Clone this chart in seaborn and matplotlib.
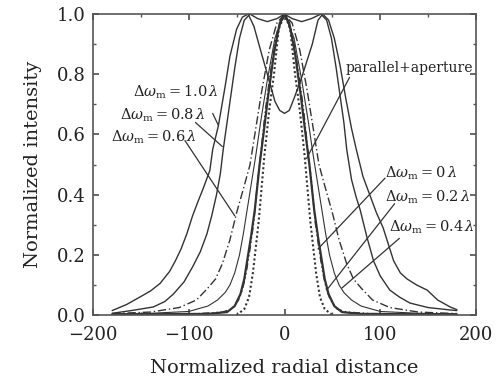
import numpy as np
import pandas as pd
import matplotlib
matplotlib.use("Agg")
import matplotlib.pyplot as plt
from matplotlib.ticker import MultipleLocator
import seaborn as sns

# ---- data (radial distance, normalized intensity) ----
x_10 = [-180, -165, -151, -140, -130, -120, -114, -108, -102, -96, -90, -85, -78, -75, -69, -62, -57, -50, -44, -38,
        -32, -25, -17, -10, -5, 0, 5, 10, 18, 25, 29, 35, 40, 46, 52, 58, 64, 70, 75, 82, 89, 96, 103, 109, 114, 121,
        128, 138, 149, 160, 173, 180]
y_10 = [0.015, 0.035, 0.06, 0.08, 0.105, 0.145, 0.18, 0.22, 0.27, 0.33, 0.38, 0.42, 0.48, 0.55, 0.63, 0.76, 0.86, 0.95,
        0.99, 1.0, 0.96, 0.88, 0.79, 0.71, 0.68, 0.67, 0.68, 0.72, 0.79, 0.86, 0.90, 0.98, 1.0, 0.98, 0.92, 0.83, 0.72,
        0.62, 0.55, 0.46, 0.40, 0.34, 0.29, 0.23, 0.18, 0.14, 0.12, 0.10, 0.083, 0.05, 0.027, 0.018]

x_08 = [-180, -160, -137, -125, -116, -105, -96, -88, -81, -76, -71, -67, -64, -60, -56, -52, -47, -42, -36, -28, -18,
        -8, 0, 8, 18, 28, 38, 44, 49, 54, 58, 62, 65, 70, 75, 79, 86, 93, 100, 110, 120, 131, 150, 173, 180]
y_08 = [0.006, 0.015, 0.027, 0.045, 0.07, 0.11, 0.16, 0.21, 0.27, 0.33, 0.40, 0.47, 0.55, 0.64, 0.73, 0.82, 0.92, 0.98,
        1.0, 0.985, 0.975, 0.985, 1.0, 0.985, 0.975, 0.985, 1.0, 0.98, 0.92, 0.82, 0.73, 0.64, 0.55, 0.45, 0.39, 0.35,
        0.26, 0.18, 0.13, 0.083, 0.06, 0.04, 0.025, 0.017, 0.015]

x_06 = [-180, -140, -110, -92, -80, -72, -65, -57, -50, -42, -36, -30, -24, -16, -8, 0, 8, 16, 24, 30, 36, 42, 50, 57,
        65, 72, 80, 92, 110, 140, 180]
y_06 = [0.005, 0.01, 0.025, 0.05, 0.09, 0.12, 0.17, 0.25, 0.34, 0.43, 0.50, 0.62, 0.74, 0.88, 0.97, 1.0, 0.97, 0.88,
        0.74, 0.62, 0.50, 0.43, 0.34, 0.25, 0.17, 0.12, 0.09, 0.05, 0.025, 0.01, 0.005]

x_04 = [-180, -140, -100, -80, -70, -62, -57, -52, -47, -43, -38, -34, -30, -25, -18, -10, 0, 10, 18, 25, 30, 34, 38,
        43, 47, 52, 57, 62, 70, 80, 100, 140, 180]
y_04 = [0.004, 0.006, 0.012, 0.03, 0.05, 0.075, 0.10, 0.14, 0.20, 0.27, 0.37, 0.45, 0.53, 0.64, 0.78, 0.92, 1.0, 0.92,
        0.78, 0.64, 0.53, 0.45, 0.37, 0.27, 0.20, 0.14, 0.10, 0.075, 0.05, 0.03, 0.012, 0.006, 0.004]

x_02 = [-180, -90, -65, -55, -48, -44, -40, -36, -32, -28, -25, -20, -15, -8, 0, 8, 15, 20, 25, 28, 32, 36, 40, 44, 48,
        55, 65, 90, 180]
y_02 = [0.003, 0.005, 0.01, 0.02, 0.05, 0.083, 0.14, 0.22, 0.31, 0.45, 0.53, 0.68, 0.80, 0.94, 1.0, 0.94, 0.80, 0.68,
        0.53, 0.45, 0.31, 0.22, 0.14, 0.083, 0.05, 0.02, 0.01, 0.005, 0.003]

x_00 = [-180, -80, -60, -52, -46, -42, -38, -35, -31, -26, -22, -17, -11, -5, 0, 5, 11, 17, 22, 26, 31, 35, 38, 42, 46,
        52, 60, 80, 180]
y_00 = [0.002, 0.004, 0.01, 0.03, 0.07, 0.12, 0.20, 0.26, 0.35, 0.50, 0.60, 0.73, 0.87, 0.97, 1.0, 0.97, 0.87, 0.73,
        0.60, 0.50, 0.35, 0.26, 0.20, 0.12, 0.07, 0.03, 0.01, 0.004, 0.002]

x_pa = [-50, -42, -37, -33, -27, -21, -16, -11, -6, 0, 6, 11, 16, 21, 27, 33, 37, 42, 50]
y_pa = [0.0, 0.02, 0.06, 0.14, 0.31, 0.53, 0.68, 0.80, 0.95, 1.0, 0.95, 0.80, 0.68, 0.53, 0.31, 0.14, 0.06, 0.02, 0.0]

curves = [
    (x_10, y_10, '-', 1.0),
    (x_08, y_08, '-', 1.0),
    (x_06, y_06, (0, (6, 2, 1, 2)), 1.0),
    (x_04, y_04, '-', 0.8),
    (x_02, y_02, (0, (5, 2, 1, 2, 1, 2)), 1.0),
    (x_00, y_00, '-', 1.6),
    (x_pa, y_pa, (0, (1, 1.2)), 1.5),
]

labels = [r'$\Delta\omega_{\rm m} = 1.0\,\lambda$', r'$\Delta\omega_{\rm m} = 0.8\,\lambda$',
          r'$\Delta\omega_{\rm m} = 0.6\,\lambda$', 'parallel+aperture',
          r'$\Delta\omega_{\rm m} = 0\,\lambda$', r'$\Delta\omega_{\rm m} = 0.2\,\lambda$',
          r'$\Delta\omega_{\rm m} = 0.4\,\lambda$']

sns.set_theme(style="ticks")
plt.rcParams['font.family'] = ['DejaVu Serif']
plt.rcParams['mathtext.fontset'] = 'dejavuserif'

fig = plt.figure(figsize=(5, 3.81), dpi=100)
ax = fig.add_axes([0.186, 0.173, 0.766, 0.79])

lc = '#333333'
for xs, ys, ls, lw in curves:
    sns.lineplot(x=xs, y=ys, ax=ax, color=lc, linestyle=ls, linewidth=lw, sort=False)

# label text position, leader line start/end
ann = [
    ((-113, 0.74), (-75, 0.67), (-69, 0.63), 'center'),
    ((-127, 0.665), (-93, 0.64), (-65, 0.56), 'center'),
    ((-136, 0.59), (-104, 0.58), (-52, 0.33), 'center'),
    ((130, 0.82), (68, 0.79), (23, 0.52), 'center'),
    ((105, 0.47), (105, 0.455), (35, 0.22), 'left'),
    ((105, 0.39), (115, 0.37), (44, 0.083), 'left'),
    ((109, 0.29), (120, 0.255), (60, 0.09), 'left'),
]
for lab, (tpos, p0, p1, ha) in zip(labels, ann):
    fs = 10 if lab.startswith('parallel') else 10.5
    ax.text(tpos[0], tpos[1], lab, ha=ha, va='center', fontsize=fs, color='#222222')
    ax.plot([p0[0], p1[0]], [p0[1], p1[1]], color=lc, lw=0.9)

ax.set_xlim(-200, 200)
ax.set_ylim(0, 1.0)
ax.xaxis.set_major_locator(MultipleLocator(100))
ax.xaxis.set_minor_locator(MultipleLocator(50))
ax.yaxis.set_major_locator(MultipleLocator(0.2))
ax.yaxis.set_minor_locator(MultipleLocator(0.1))
ax.yaxis.set_major_formatter(matplotlib.ticker.FormatStrFormatter('%.1f'))
ax.tick_params(which='both', direction='in', top=True, right=True, labelsize=13, color='#555555',
               labelcolor='#222222')
ax.tick_params(which='major', length=4)
ax.tick_params(axis='x', which='major', pad=8)
ax.tick_params(axis='y', which='major', pad=5)
ax.tick_params(which='minor', length=2.5)
for s in ax.spines.values():
    s.set_color('#555555')
    s.set_linewidth(1.2)

ax.set_xlabel('Normalized radial distance', fontsize=14, labelpad=11, color='#222222')
ax.set_ylabel('Normalized intensity', fontsize=14, labelpad=11, color='#222222')

fig.savefig('out.png', dpi=100)
